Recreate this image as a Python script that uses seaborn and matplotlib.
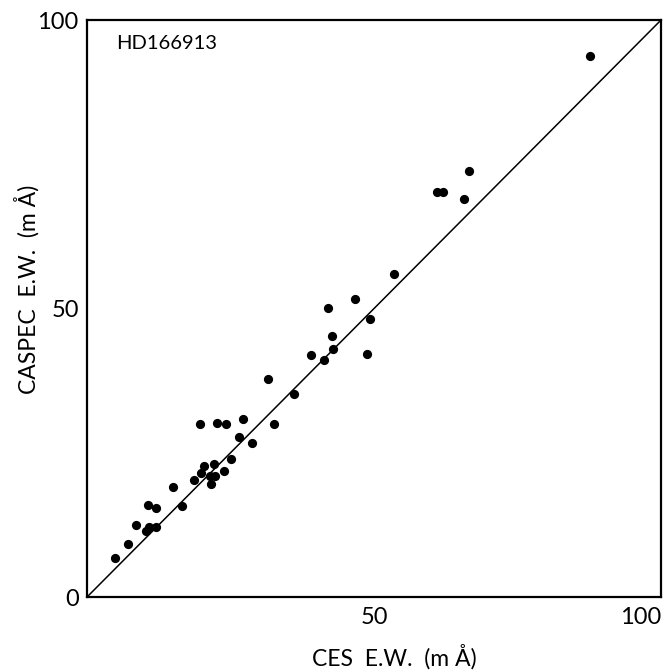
import matplotlib
matplotlib.use("Agg")
import matplotlib.pyplot as plt
import seaborn as sns
import pandas as pd

ces_ew = [4.8, 7.2, 8.5, 10.3, 10.8, 12.0, 10.6, 12.0, 15.0, 16.6,
          18.6, 19.8, 20.4, 21.4, 21.6, 22.3, 22.2, 23.8, 25.0, 26.5,
          28.8, 32.5, 19.6, 22.6, 24.2, 27.1, 31.5, 36.1, 39.0, 41.2,
          42.9, 42.7, 42.0, 46.7, 49.3, 48.7, 53.4, 61.0, 62.0, 65.7,
          66.6, 87.6]
caspec_ew = [6.8, 9.2, 12.4, 11.4, 12.2, 12.2, 16.0, 15.4, 19.1, 15.8,
             20.2, 21.5, 22.7, 20.9, 19.6, 21.0, 23.0, 21.8, 23.9, 27.8,
             26.7, 30.0, 29.9, 30.1, 29.9, 30.9, 37.7, 35.1, 41.9, 41.0,
             42.9, 45.3, 50.1, 51.6, 48.1, 42.1, 55.9, 70.2, 70.2, 69.0,
             73.9, 93.7]
tick_values = [0, 25, 50, 75, 100]
x_tick_labels = ["", "", "50", "", "100"]
y_tick_labels = ["0", "", "50", "", "100"]
star_label = "HD166913"

sns.set_theme(style="white")
plt.rcParams["font.family"] = ["Lato", "DejaVu Sans"]

df = pd.DataFrame({"ces": ces_ew, "caspec": caspec_ew})

fig = plt.figure(figsize=(6.7, 6.72), dpi=100)
ax = fig.add_axes([0.1299, 0.1116, 0.8567, 0.8586])

sns.lineplot(x=[0, 100], y=[0, 100], ax=ax, color="black", linewidth=1.1)
sns.scatterplot(data=df, x="ces", y="caspec", ax=ax, color="black",
                s=44, edgecolor="black", linewidth=0)

ax.set_xlim(0, 100)
ax.set_ylim(0, 100)
ax.set_xticks(tick_values)
ax.set_xticklabels(x_tick_labels)
ax.set_yticks(tick_values)
ax.set_yticklabels(y_tick_labels)
ax.tick_params(axis="both", direction="in", length=8, width=1.5,
               labelsize=17, colors="black", pad=6)
ax.tick_params(axis="x", pad=7)
for lab in ax.get_xticklabels():
    if lab.get_text() == "100":
        lab.set_horizontalalignment("right")
        lab.set_x(1.0)

for sp in ax.spines.values():
    sp.set_linewidth(1.6)
    sp.set_color("black")

ax.set_xlabel("CES  E.W.  (m Å)", fontsize=16.5, color="black")
ax.set_ylabel("CASPEC  E.W.  (m Å)", fontsize=16.5, color="black")
ax.xaxis.set_label_coords(0.535, -0.082)
ax.yaxis.set_label_coords(-0.082, 0.534)
ax.text(5.0, 96.0, star_label, fontsize=14.5, ha="left", va="center",
        color="black")

fig.savefig("out.png", dpi=100)
